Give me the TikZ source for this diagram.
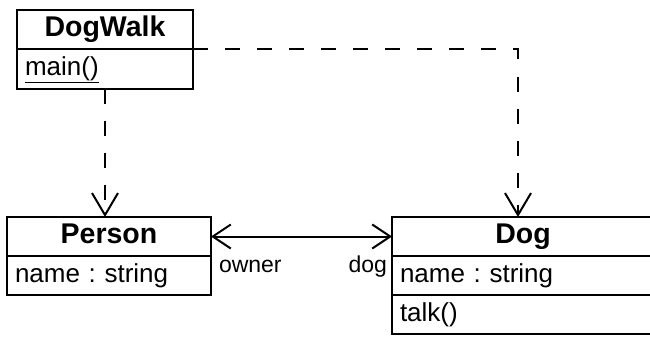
\documentclass[tikz,border=0pt]{standalone}
\usepackage{fontspec}
\setmainfont{Liberation Sans}
\usepackage{tikz}
\usetikzlibrary{arrows.meta,positioning}
\frenchspacing

\begin{document}
\begin{tikzpicture}[
    x=1pt,y=-1pt,
    line width=2pt,
    title/.style={draw,outer sep=0pt,inner xsep=8pt,minimum height=39pt,text height=19pt,text depth=6pt,font=\fontsize{28.5}{32}\selectfont\bfseries},
    member/.style={draw,outer sep=0pt,inner xsep=8pt,minimum height=39pt,text height=19pt,text depth=6pt,align=left,font=\fontsize{26}{30}\selectfont},
    role/.style={inner sep=0pt,font=\fontsize{23}{26}\selectfont},
    dep/.style={dash pattern=on 15pt off 17pt,-{Straight Barb[length=22pt,width=26pt]}},
    assoc/.style={{Straight Barb[length=18pt,width=24pt]}-{Straight Barb[length=18pt,width=24pt]}}
]
\clip (0,0) rectangle (650,337);

% classes
\node[title,minimum width=176pt] (walk) at (105,30) {DogWalk};
\node[member,text width=160pt,below=0pt of walk] (walkops) {\underline{main()}};

\node[title,minimum width=204pt] (person) at (109,236.5) {Person};
\node[member,text width=188pt,below=0pt of person] (personattr) {name : string};

\node[title,minimum width=262pt] (dog) at (523,236.5) {Dog};
\node[member,text width=246pt,below=0pt of dog] (dogattr) {name : string};
\node[member,text width=246pt,below=0pt of dogattr] (dogops) {talk()};

% dependencies
\draw[dep] (walkops.south) -- (walkops.south |- person.north);
\draw[dep] (walk.south east) -| ([xshift=-5pt]dog.north);

% association
\draw[assoc] (person.east) -- (dog.west);
\node[role,anchor=base west] (owner) at (218,272) {owner};
\node[role,anchor=base east] (dogrole) at (388,272) {dog};
\end{tikzpicture}
\end{document}
